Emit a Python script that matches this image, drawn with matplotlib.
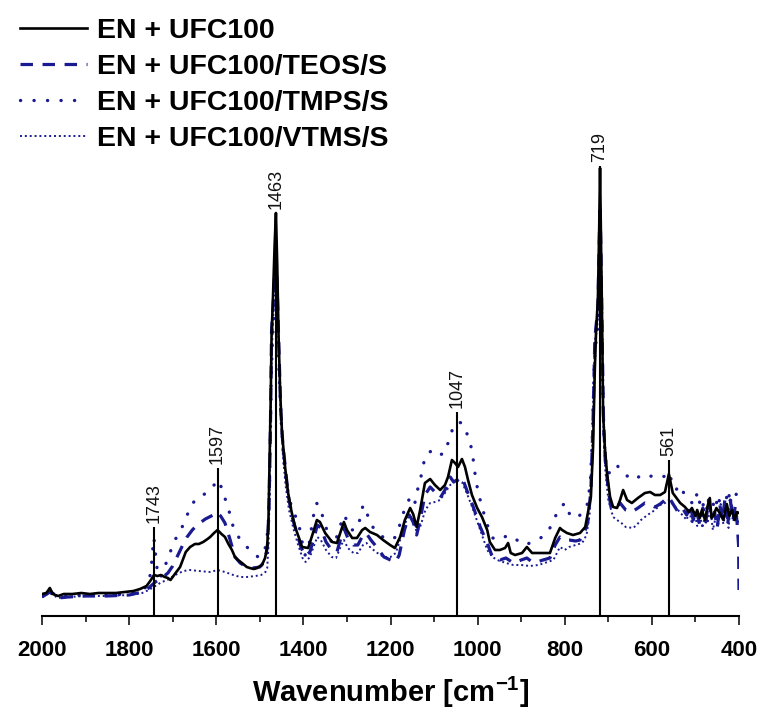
import matplotlib
matplotlib.use('Agg')
import matplotlib.pyplot as plt

plt.rcParams['font.family'] = ['Liberation Sans', 'DejaVu Sans']
plt.rcParams['mathtext.fontset'] = 'custom'
plt.rcParams['mathtext.rm'] = 'Liberation Sans'
plt.rcParams['mathtext.bf'] = 'Liberation Sans:bold'

# wavenumber [cm-1] and intensity [a.u.]
wn_ufc = [2000, 1990, 1982, 1975, 1963, 1950, 1930, 1910, 1890, 1870, 1850, 1830, 1810, 1790, 1775, 1760,
          1750, 1743, 1735, 1727, 1718, 1711, 1705, 1695, 1683, 1670, 1660, 1649, 1640, 1630, 1620, 1614,
          1605, 1597, 1588, 1580, 1572, 1564, 1557, 1550, 1541, 1530, 1523, 1514, 1506, 1495, 1488, 1483,
          1480, 1478, 1475, 1473, 1470, 1466, 1463, 1460, 1457, 1453, 1449, 1442, 1435, 1427, 1419, 1410,
          1403, 1389, 1378, 1369, 1362, 1350, 1334, 1323, 1311, 1307, 1300, 1288, 1277, 1265, 1258, 1247,
          1231, 1217, 1201, 1190, 1178, 1167, 1155, 1148, 1140, 1132, 1121, 1109, 1098, 1086, 1075, 1068,
          1059, 1052, 1045, 1036, 1029, 1022, 1013, 1001, 990, 978, 972, 960, 949, 937, 930, 924,
          914, 898, 887, 875, 864, 850, 834, 822, 811, 806, 795, 781, 765, 753, 747, 740,
          735, 731, 728, 724, 721, 719, 717, 714, 712, 708, 703, 696, 689, 680, 673, 666,
          657, 646, 632, 616, 604, 593, 581, 570, 561, 552, 535, 524, 515, 508, 500, 496,
          490, 485, 478, 472, 467, 463, 459, 452, 444, 436, 428, 422, 416, 410, 405, 400]
int_ufc = [22, 23, 28, 22, 20, 22, 22, 23, 22, 23, 23, 23, 24, 25, 27, 30,
           36, 41, 40, 41, 39, 38, 36, 42, 49, 64, 69, 72, 72, 74, 77, 79,
           83, 86, 82, 79, 72, 66, 59, 56, 53, 49, 48, 47, 48, 51, 58, 69,
           99, 146, 216, 281, 316, 371, 403, 351, 281, 221, 183, 149, 123, 104, 89, 78,
           69, 68, 83, 96, 94, 83, 74, 73, 89, 94, 86, 78, 78, 86, 88, 84,
           81, 76, 71, 68, 79, 96, 108, 102, 89, 106, 133, 137, 131, 126, 131, 139,
           156, 153, 149, 157, 149, 136, 121, 108, 99, 86, 74, 66, 66, 68, 73, 63,
           61, 63, 69, 63, 63, 63, 63, 78, 88, 86, 83, 81, 83, 89, 103, 119,
           169, 246, 286, 316, 386, 448, 386, 286, 203, 169, 143, 119, 109, 108, 116, 126,
           116, 113, 118, 123, 124, 121, 121, 124, 142, 123, 113, 109, 104, 108, 100, 106,
           98, 106, 96, 110, 118, 98, 100, 108, 103, 96, 112, 100, 106, 96, 104, 103]

wn_teos = [2000, 1982, 1963, 1940, 1900, 1850, 1800, 1770, 1755, 1740, 1725, 1711, 1700, 1690, 1678, 1667,
           1655, 1644, 1625, 1607, 1600, 1590, 1580, 1568, 1557, 1545, 1538, 1515, 1500, 1492, 1485, 1482,
           1479, 1476, 1473, 1470, 1466, 1463, 1460, 1456, 1452, 1447, 1442, 1435, 1425, 1415, 1405, 1395,
           1385, 1375, 1368, 1360, 1348, 1335, 1323, 1312, 1307, 1298, 1285, 1275, 1263, 1256, 1245, 1230,
           1215, 1200, 1188, 1180, 1168, 1157, 1148, 1140, 1132, 1121, 1109, 1098, 1086, 1075, 1063, 1055,
           1048, 1036, 1025, 1010, 994, 978, 966, 949, 935, 918, 900, 887, 875, 864, 850, 834,
           822, 811, 800, 790, 775, 765, 755, 747, 740, 735, 731, 728, 724, 721, 719, 717,
           714, 711, 707, 700, 694, 685, 673, 660, 646, 632, 616, 600, 593, 581, 570, 561,
           550, 540, 530, 520, 512, 505, 498, 490, 483, 476, 470, 463, 456, 450, 444, 438,
           432, 426, 420, 414, 408, 404, 401, 400]
int_teos = [19, 24, 18, 19, 20, 20, 21, 24, 28, 34, 38, 43, 50, 59, 70, 79,
            86, 91, 97, 101, 104, 100, 93, 76, 59, 53, 51, 48, 49, 53, 63, 73,
            106, 176, 286, 306, 341, 366, 326, 266, 206, 171, 151, 121, 98, 83, 68, 60,
            64, 79, 91, 88, 74, 66, 64, 81, 88, 78, 71, 71, 81, 83, 76, 68,
            59, 56, 54, 61, 86, 101, 94, 81, 96, 121, 129, 124, 118, 126, 139, 134,
            136, 139, 126, 109, 89, 73, 59, 56, 58, 53, 56, 58, 54, 54, 56, 58,
            71, 79, 76, 76, 75, 76, 83, 94, 126, 196, 276, 291, 306, 366, 411, 366,
            276, 196, 156, 126, 109, 106, 113, 106, 104, 108, 113, 111, 109, 112, 116, 119,
            111, 104, 108, 101, 111, 96, 106, 91, 108, 94, 116, 98, 104, 88, 111, 96,
            118, 91, 116, 96, 111, 91, 71, 26]

wn_tmps = [2000, 1982, 1963, 1940, 1900, 1850, 1800, 1770, 1758, 1750, 1746, 1743, 1740, 1735, 1728, 1720,
           1711, 1699, 1688, 1676, 1662, 1649, 1630, 1614, 1605, 1597, 1591, 1585, 1573, 1561, 1545, 1523,
           1504, 1490, 1484, 1480, 1477, 1474, 1471, 1467, 1463, 1460, 1456, 1451, 1446, 1440, 1432, 1420,
           1412, 1404, 1396, 1387, 1378, 1370, 1362, 1350, 1338, 1330, 1318, 1308, 1300, 1288, 1275, 1263,
           1255, 1245, 1230, 1215, 1200, 1188, 1175, 1165, 1155, 1145, 1138, 1128, 1121, 1110, 1102, 1088,
           1075, 1068, 1056, 1046, 1036, 1026, 1017, 1010, 1005, 999, 988, 976, 965, 950, 930, 910,
           891, 875, 864, 852, 841, 830, 818, 810, 800, 786, 770, 757, 747, 741, 736, 732,
           729, 725, 722, 719, 716, 713, 710, 705, 701, 690, 680, 673, 660, 650, 639, 625,
           611, 600, 593, 581, 570, 563, 555, 545, 535, 525, 515, 505, 495, 487, 478, 470,
           462, 455, 448, 440, 432, 425, 418, 410, 405, 400]
int_tmps = [20, 25, 19, 20, 21, 21, 22, 26, 30, 44, 66, 78, 64, 44, 38, 49,
            56, 73, 81, 91, 106, 116, 121, 126, 131, 136, 132, 124, 109, 89, 76, 66,
            59, 63, 76, 96, 146, 236, 276, 306, 326, 296, 246, 196, 161, 136, 116, 101,
            96, 76, 61, 71, 98, 113, 109, 91, 76, 71, 86, 101, 96, 86, 88, 111,
            104, 91, 84, 78, 76, 79, 96, 111, 118, 111, 126, 143, 159, 164, 166, 161,
            163, 173, 189, 194, 193, 184, 174, 156, 139, 124, 106, 89, 78, 76, 81, 76,
            71, 74, 76, 79, 83, 91, 103, 108, 113, 99, 99, 104, 113, 136, 186, 256,
            271, 286, 336, 376, 326, 236, 176, 151, 143, 144, 151, 146, 141, 138, 136, 141,
            139, 140, 139, 138, 140, 144, 136, 126, 131, 121, 118, 111, 124, 106, 116, 101,
            116, 106, 121, 104, 111, 126, 108, 116, 124, 131]

wn_vtms = [2000, 1982, 1963, 1940, 1900, 1850, 1800, 1770, 1755, 1740, 1725, 1712, 1706, 1690, 1675, 1660,
           1640, 1614, 1597, 1580, 1561, 1545, 1530, 1510, 1497, 1487, 1483, 1480, 1477, 1474, 1471, 1467,
           1463, 1460, 1456, 1452, 1447, 1441, 1433, 1422, 1412, 1402, 1395, 1385, 1375, 1368, 1360, 1348,
           1335, 1325, 1313, 1307, 1298, 1285, 1275, 1263, 1255, 1245, 1230, 1215, 1200, 1188, 1178, 1165,
           1157, 1148, 1140, 1132, 1120, 1109, 1098, 1086, 1075, 1063, 1048, 1036, 1025, 1010, 994, 978,
           966, 955, 935, 918, 900, 880, 860, 840, 826, 811, 800, 790, 775, 760, 750, 743,
           738, 734, 731, 728, 724, 721, 719, 717, 714, 711, 707, 700, 689, 680, 670, 660,
           643, 635, 625, 610, 593, 581, 570, 561, 550, 540, 530, 520, 514, 508, 502, 496,
           490, 484, 478, 472, 466, 460, 454, 448, 442, 436, 430, 424, 418, 412, 406, 400]
int_vtms = [19, 23, 18, 19, 20, 20, 21, 23, 26, 30, 34, 36, 38, 42, 45, 46,
            45, 44, 46, 44, 41, 39, 39, 40, 41, 44, 48, 71, 136, 236, 281, 321,
            346, 311, 256, 201, 161, 131, 106, 86, 71, 58, 54, 59, 71, 79, 76, 66,
            59, 58, 71, 76, 68, 63, 63, 71, 73, 68, 63, 59, 59, 63, 76, 94,
            101, 96, 84, 89, 106, 113, 114, 116, 123, 131, 136, 134, 123, 106, 86, 66,
            59, 56, 53, 51, 51, 50, 51, 54, 56, 69, 66, 69, 71, 73, 81, 101,
            146, 226, 276, 281, 296, 356, 396, 351, 266, 186, 146, 116, 99, 96, 93, 89,
            88, 91, 96, 101, 106, 111, 113, 116, 111, 106, 101, 96, 106, 92, 104, 90,
            102, 88, 100, 93, 108, 86, 98, 90, 112, 92, 104, 88, 116, 94, 100, 93]

peak_wn = [1743, 1597, 1463, 1047, 719, 561]
peak_top = [89, 148, 403, 204, 450, 156]

navy = '#1a1a92'

fig = plt.figure(figsize=(7.67, 7.20), dpi=100)
ax = fig.add_axes([42 / 767, 104 / 720, 697 / 767, 616 / 720])

ax.plot(wn_ufc, int_ufc, color='black', lw=1.9, label='EN + UFC100', zorder=4)
ax.plot(wn_teos, int_teos, color=navy, lw=2.3, ls=(0, (3.9, 3.0)), label='EN + UFC100/TEOS/S', zorder=3)
ax.plot(wn_tmps, int_tmps, color=navy, lw=2.4, ls=(0, (0.05, 4.0)), dash_capstyle='round',
        label='EN + UFC100/TMPS/S', zorder=3)
ax.plot(wn_vtms, int_vtms, color=navy, lw=1.4, ls=(0, (1, 1.5)), label='EN + UFC100/VTMS/S', zorder=3)

for w, top in zip(peak_wn, peak_top):
    ax.vlines(w, 0, top, color='black', lw=1.5, zorder=5)
    ax.text(w, top + 4, str(w), rotation=90, ha='center', va='bottom', fontsize=13, color='#111111')

ax.set_xlim(2000, 400)
ax.set_ylim(0, 616)
for s in ['left', 'right', 'top']:
    ax.spines[s].set_visible(False)
ax.spines['bottom'].set_linewidth(1.5)
ax.set_yticks([])
ax.set_xticks(range(2000, 399, -200))
ax.set_xticks(range(1900, 400, -200), minor=True)
ax.tick_params(axis='x', which='major', length=6.5, width=1.1, direction='out', labelsize=16, pad=11)
ax.tick_params(axis='x', which='minor', length=4.5, width=1.1, direction='out')
for lab in ax.get_xticklabels():
    lab.set_fontweight('bold')
ax.set_xlabel(r'Wavenumber [cm$\mathbf{^{-1}}$]', fontsize=21, fontweight='bold', labelpad=10)

leg = ax.legend(loc='upper left', bbox_to_anchor=(20 / 767, 1 - 18 / 720), bbox_transform=fig.transFigure,
                frameon=False, borderpad=0, borderaxespad=0, handlelength=2.35, handletextpad=0.35,
                labelspacing=0.35, prop={'size': 20.5, 'weight': 'bold'})

fig.savefig('out.png', dpi=100)
